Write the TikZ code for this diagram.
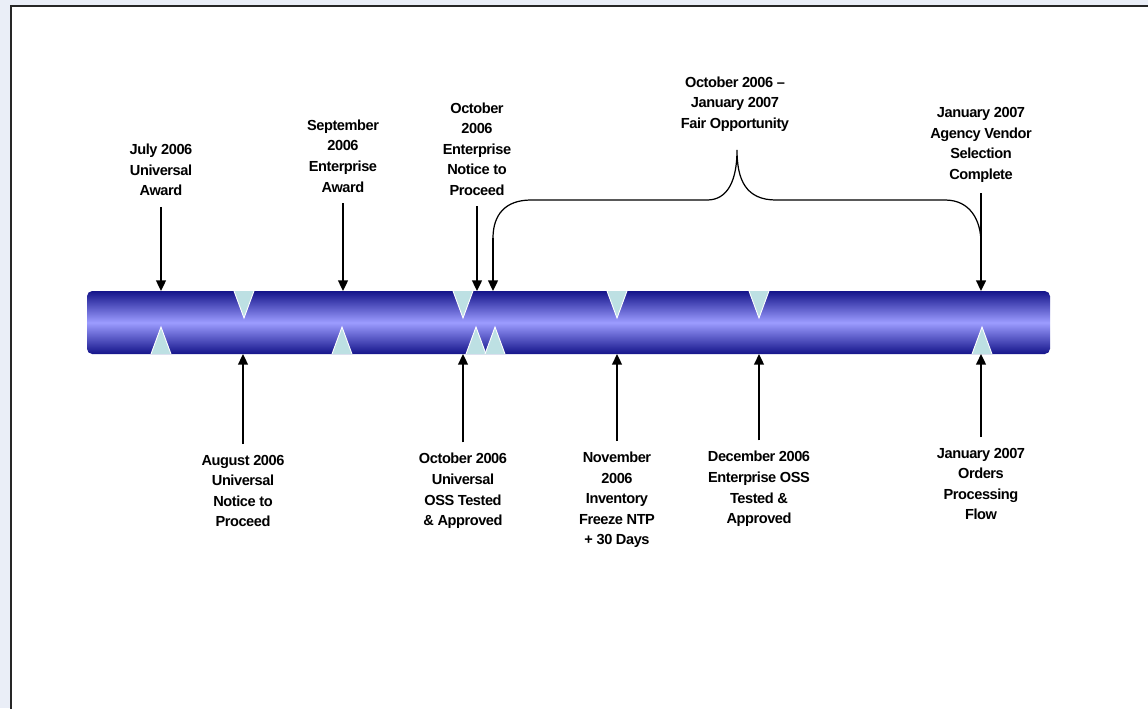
\documentclass[tikz,border=0pt]{standalone}
\usepackage{fontspec}
\setmainfont{Liberation Sans}
\usetikzlibrary{arrows.meta,positioning}
\definecolor{pagebg}{HTML}{EAEEF7}
\definecolor{barnavy}{HTML}{14148A}
\definecolor{barlight}{HTML}{9C9CFF}
\definecolor{notchcol}{HTML}{BDE0E3}

\begin{document}
\begin{tikzpicture}[
  x=0.02cm, y=-0.02cm,
  mile/.style={font=\bfseries\fontsize{8.3}{11.7}\selectfont\addfontfeature{LetterSpace=-3}, align=center, inner sep=1pt},
  arrow/.style={-{Triangle[length=6pt,width=5.5pt]}, line width=1.1pt, shorten <=5pt},
  brace/.style={line width=0.7pt}
]
\useasboundingbox (0,0) rectangle (1148,708);
\clip (0,0) rectangle (1148,708);
\fill[pagebg] (0,0) rectangle (1148,708);
\draw[fill=white, line width=1.2pt, draw=black!85] (11,6) rectangle (1170,730);

\shade[top color=barnavy, bottom color=barnavy, middle color=barlight, rounded corners=3pt]
  (87,291) rectangle (1050,354);
\foreach \x in {244,463,617,759} {
  \fill[notchcol] (\x-10,291) -- (\x,318) -- (\x+10,291) -- cycle;
  \draw[white, line width=0.5pt] (\x-10,291) -- (\x,318) -- (\x+10,291);
}
\foreach \x in {161,342,476,495,982} {
  \fill[notchcol] (\x-10,354) -- (\x,327) -- (\x+10,354) -- cycle;
  \draw[white, line width=0.5pt] (\x-10,354) -- (\x,327) -- (\x+10,354);
}

\coordinate (pJul) at (161,291);
\coordinate (pSep) at (343,291);
\coordinate (pOctE) at (477,291);
\coordinate (pOpp) at (493,291);
\coordinate (pJanA) at (981,291);
\coordinate (pAug) at (243,354);
\coordinate (pOctU) at (463,354);
\coordinate (pNov) at (617,354);
\coordinate (pDec) at (759,354);
\coordinate (pJanO) at (981,354);

\node[mile] (jul) at (161,170) {July 2006\\Universal\\Award};
\node[mile] (sep) at (343,156) {September\\2006\\Enterprise\\Award};
\node[mile] (octE) at (477,149) {October\\2006\\Enterprise\\Notice to\\Proceed};
\node[mile] (fair) at (735,104) {October 2006 --\\January 2007\\Fair Opportunity};
\node[mile] (janA) at (981,145) {January 2007\\Agency Vendor\\Selection\\Complete};
\node[mile] (aug) at (243,491) {August 2006\\Universal\\Notice to\\Proceed};
\node[mile] (octU) at (463,491) {October 2006\\Universal\\OSS Tested\\\& Approved};
\node[mile] (nov) at (617,500) {November\\2006\\Inventory\\Freeze NTP\\+ 30 Days};
\node[mile] (dec) at (759,489) {December 2006\\Enterprise OSS\\Tested \&\\Approved};
\node[mile] (janO) at (981,484) {January 2007\\Orders\\Processing\\Flow};

\coordinate (bl) at (493,238);
\coordinate (tip) at (737,150);
\coordinate (br) at (981,243);
\draw[brace] (bl) .. controls (493,215) and (505,200) .. (531,200) -- (707,200)
  .. controls (728,200) and (737,180) .. (tip)
  .. controls (737,180) and (746,200) .. (776,200) -- (945,200)
  .. controls (970,200) and (981,220) .. (br);

\draw[arrow] (jul) -- (pJul);
\draw[arrow] (sep) -- (pSep);
\draw[arrow] (octE) -- (pOctE);
\draw[arrow, shorten <=0pt] (bl) -- (pOpp);
\draw[arrow] (janA) -- (pJanA);
\draw[arrow] (aug) -- (pAug);
\draw[arrow] (octU) -- (pOctU);
\draw[arrow] (nov) -- (pNov);
\draw[arrow] (dec) -- (pDec);
\draw[arrow] (janO) -- (pJanO);
\end{tikzpicture}
\end{document}
